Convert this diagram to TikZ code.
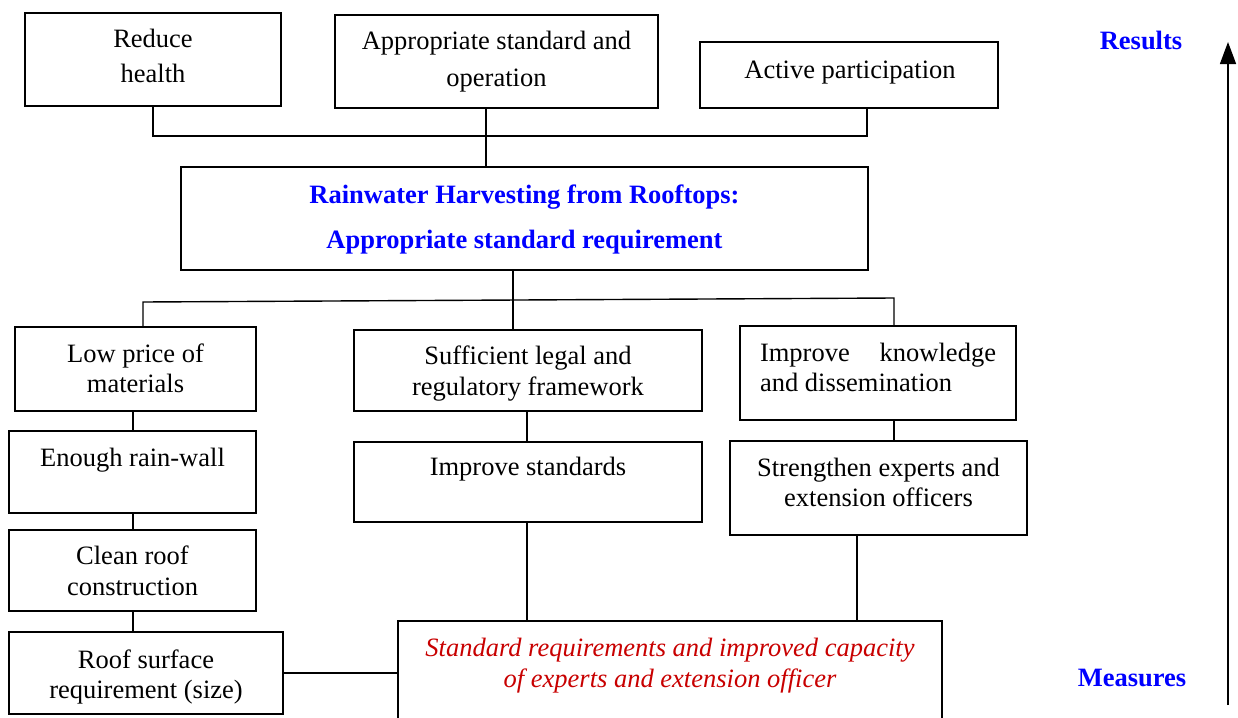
\documentclass[tikz,border=0pt]{standalone}
\usepackage{fontspec}
\setmainfont{Liberation Serif}
\usetikzlibrary{arrows.meta}
\definecolor{hblue}{RGB}{0,0,255}
\definecolor{hred}{RGB}{200,0,0}
\newcommand\ctext[3]{\parbox[t]{#1}{\centering\fontsize{26.5}{#2}\selectfont\leavevmode #3}}
\tikzset{
  box/.style={draw=black,line width=1.8pt,inner sep=0pt,outer sep=0pt,fill=none},
  conn/.style={draw=black,line width=1.4pt},
  txt/.style={inner sep=0pt,outer sep=0pt,anchor=base,font=\fontsize{26.5}{35}\selectfont},
}
\begin{document}
\begin{tikzpicture}[x=1pt,y=-1pt]
\useasboundingbox (0,0) rectangle (1238,717);
% boxes
\node[box,minimum width=256pt,minimum height=93pt] (reduce) at (153,59.5) {};
\node[box,minimum width=323pt,minimum height=93pt] (approp) at (496.5,61.5) {};
\node[box,minimum width=298pt,minimum height=66pt] (active) at (849,75) {};
\node[box,minimum width=687pt,minimum height=103pt] (main) at (524.5,218.5) {};
\node[box,minimum width=241pt,minimum height=84pt] (lowprice) at (135.5,369) {};
\node[box,minimum width=247pt,minimum height=82pt] (rainwall) at (132.5,472) {};
\node[box,minimum width=247pt,minimum height=81pt] (clean) at (132.5,570.5) {};
\node[box,minimum width=274pt,minimum height=82pt] (roof) at (146,673) {};
\node[box,minimum width=348pt,minimum height=81pt] (legal) at (528,370.5) {};
\node[box,minimum width=348pt,minimum height=80pt] (stds) at (528,482) {};
\node[box,minimum width=276pt,minimum height=94pt] (know) at (878,373) {};
\node[box,minimum width=297pt,minimum height=94pt] (strength) at (878.5,488) {};
\node[box,minimum width=544pt,minimum height=100pt] (red) at (670,671) {};
% texts
\node[txt] (treduce) at (153,48) {\ctext{256pt}{35pt}{Reduce\\health}};
\node[txt] (tapprop) at (496.5,50) {\ctext{323pt}{36pt}{Appropriate standard and\\operation}};
\node[txt] (tactive) at (850,78) {\ctext{298pt}{35pt}{Active participation}};
\node[txt,text=hblue,font=\bfseries] (tmain) at (524.5,203) {\ctext{687pt}{45pt}{Rainwater Harvesting from Rooftops:\\Appropriate standard requirement}};
\node[txt] (tlow) at (135.5,362) {\ctext{241pt}{30pt}{Low price of\\materials}};
\node[txt] (train) at (132.5,466) {\ctext{247pt}{30pt}{Enough rain-wall}};
\node[txt] (tclean) at (132.5,564) {\ctext{247pt}{31pt}{Clean roof\\construction}};
\node[txt] (troof) at (146,668) {\ctext{274pt}{30pt}{Roof surface\\requirement (size)}};
\node[txt] (tlegal) at (528,364) {\ctext{348pt}{31pt}{Sufficient legal and\\regulatory framework}};
\node[txt] (tstds) at (528,475) {\ctext{348pt}{31pt}{Improve standards}};
\node[txt,anchor=base west] (tknow) at (760,361) {\parbox[t]{236pt}{\fontsize{26.5}{30}\selectfont Improve\hfill knowledge\\and dissemination}};
\node[txt] (tstrength) at (878.5,476) {\ctext{297pt}{30pt}{Strengthen experts and\\extension officers}};
\node[txt,text=hred,font=\itshape] (tred) at (670,656) {\ctext{544pt}{31pt}{Standard requirements and improved capacity\\of experts and extension officer}};
\node[txt,text=hblue,font=\fontsize{26.5}{32}\selectfont\bfseries] (results) at (1141,49) {Results};
\node[txt,text=hblue,font=\fontsize{26.5}{32}\selectfont\bfseries] (measures) at (1132,686) {Measures};
% connectors
\draw[conn] (reduce.south) -- ++(0,30) -| ([xshift=18pt]active.south);
\draw[conn] ([xshift=-10.5pt]approp.south) -- ([xshift=-10.5pt]approp.south |- main.north);
\draw[conn] ([xshift=-11.5pt]main.south) -- ([xshift=-11.5pt]main.south |- legal.north);
\coordinate (barL) at (143,302);
\coordinate (barR) at (894,298);
\draw[conn] ([xshift=7.5pt]lowprice.north) -- (barL) -- (barR) -- ([xshift=16pt]know.north);
\draw[conn] ([xshift=-2.5pt]lowprice.south) -- ([xshift=0.5pt]rainwall.north);
\draw[conn] ([xshift=0.5pt]rainwall.south) -- ([xshift=0.5pt]clean.north);
\draw[conn] ([xshift=0.5pt]clean.south) -- ([xshift=0.5pt]clean.south |- roof.north);
\draw[conn] ([xshift=-1pt]legal.south) -- ([xshift=-1pt]stds.north);
\draw[conn] ([xshift=-1pt]stds.south) -- ([xshift=-1pt]stds.south |- red.north);
\draw[conn] ([xshift=16pt]know.south) -- ([xshift=16pt]know.south |- strength.north);
\draw[conn] ([xshift=-21.5pt]strength.south) -- ([xshift=-21.5pt]strength.south |- red.north);
\draw[conn] (roof.east) -- (roof.east -| red.west);
\coordinate (arrB) at (1228,705);
\coordinate (arrT) at (1228,42);
\draw[conn,-{Triangle[length=22pt,width=16pt]}] (arrB) -- (arrT);
\end{tikzpicture}
\end{document}
